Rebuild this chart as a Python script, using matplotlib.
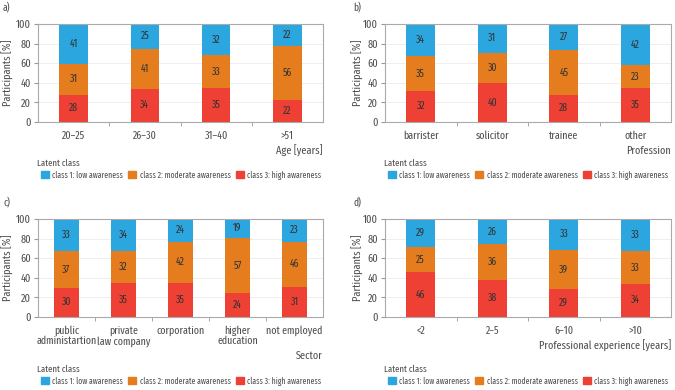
import matplotlib
matplotlib.use('Agg')
import matplotlib.pyplot as plt
from matplotlib.patches import Patch
import numpy as np

plt.rcParams['font.family'] = ['Fira Sans Extra Condensed', 'DejaVu Sans']
plt.rcParams['font.size'] = 7

BLUE = '#2ba6de'
ORANGE = '#e57d1f'
RED = '#ee4035'
GRAY = '#505050'
FS = 7.5

age_cats = ['20–25', '26–30', '31–40', '>51']
age_high = [28, 34, 35, 22]
age_mod = [31, 41, 33, 56]
age_low = [41, 25, 32, 22]

prof_cats = ['barrister', 'solicitor', 'trainee', 'other']
prof_high = [32, 40, 28, 35]
prof_mod = [35, 30, 45, 23]
prof_low = [34, 31, 27, 42]

sector_cats = ['public\nadministartion', 'private\nlaw company', 'corporation',
               'higher\neducation', 'not employed']
sector_high = [30, 35, 35, 24, 31]
sector_mod = [37, 32, 42, 57, 46]
sector_low = [33, 34, 24, 19, 23]

exp_cats = ['<2', '2–5', '6–10', '>10']
exp_high = [46, 38, 29, 34]
exp_mod = [25, 36, 39, 33]
exp_low = [29, 26, 33, 33]

legend_labels = ['class 1: low awareness', 'class 2: moderate awareness',
                 'class 3: high awareness']

W, H = 675, 390


def px_axes(fig, x0, y0, x1, y1):
    return fig.add_axes([x0 / W, 1 - y1 / H, (x1 - x0) / W, (y1 - y0) / H])


def panel(fig, box, cats, high, mod, low, xlabel, letter, letter_xy, leg_y):
    ax = px_axes(fig, *box)
    x = np.arange(len(cats))
    width = 0.4 if len(cats) == 4 else 0.43
    high = np.array(high)
    mod = np.array(mod)
    low = np.array(low)
    ax.bar(x, high, width, color=RED, zorder=2)
    ax.bar(x, mod, width, bottom=high, color=ORANGE, zorder=2)
    ax.bar(x, low, width, bottom=high + mod, color=BLUE, zorder=2)
    for i in range(len(cats)):
        ax.text(x[i], high[i] / 2, str(high[i]), ha='center', va='center', color='#333333', fontsize=FS)
        ax.text(x[i], high[i] + mod[i] / 2, str(mod[i]), ha='center', va='center', color='#333333', fontsize=FS)
        ax.text(x[i], high[i] + mod[i] + low[i] / 2, str(low[i]), ha='center', va='center', color='#333333', fontsize=FS)
    ax.set_xlim(-0.5, len(cats) - 0.5)
    ax.set_ylim(0, 100)
    ax.set_yticks([0, 20, 40, 60, 80, 100])
    ax.set_xticks(x)
    ax.set_xticklabels(cats, color=GRAY, fontsize=FS + 0.3, linespacing=1.0)
    ax.tick_params(axis='x', length=0, pad=6)
    ax.set_xticks(np.arange(len(cats) - 1) + 0.5, minor=True)
    ax.tick_params(axis='x', which='minor', length=3, color='#999999')
    ax.tick_params(axis='y', length=3, color='#999999', labelcolor=GRAY, labelsize=FS + 0.5, pad=2)
    for s in ax.spines.values():
        s.set_color('#aaaaaa')
        s.set_linewidth(0.8)
    ax.yaxis.grid(True, color='#ececec', linewidth=0.6, zorder=0)
    ax.set_axisbelow(True)
    ax.set_ylabel('Participants [%]', color=GRAY, fontsize=FS + 0.5)
    ax.yaxis.set_label_coords((letter_xy[0] + 11 - box[0]) / (box[2] - box[0]), 0.5)
    ax.set_xlabel(xlabel, loc='right', color=GRAY, fontsize=FS + 0.5, labelpad=3)
    fig.text(letter_xy[0] / W, 1 - letter_xy[1] / H, letter, color=GRAY, fontsize=FS, va='center')
    fig.text((box[0] - 1) / W, 1 - leg_y / H, 'Latent class', color=GRAY, fontsize=6.8, va='center')
    handles = [Patch(color=c) for c in (BLUE, ORANGE, RED)]
    ax.legend(handles, legend_labels, loc='center left',
              bbox_to_anchor=((box[0] - 5) / W, 1 - (leg_y + 12) / H),
              bbox_transform=fig.transFigure, ncol=3, frameon=False,
              handlelength=1.0, handleheight=1.0, handletextpad=0.4,
              columnspacing=0.6, labelcolor=GRAY, fontsize=6.0)
    return ax


fig = plt.figure(figsize=(6.75, 3.9), dpi=100)

panel(fig, (38, 24, 323, 122), age_cats, age_high, age_mod, age_low,
      'Age [years]', 'a)', (3, 8), 163)
panel(fig, (385, 24, 671, 122), prof_cats, prof_high, prof_mod, prof_low,
      'Profession', 'b)', (353, 8), 163)
panel(fig, (38, 219, 323, 317), sector_cats, sector_high, sector_mod, sector_low,
      'Sector', 'c)', (3, 203), 369)
panel(fig, (385, 219, 671, 317), exp_cats, exp_high, exp_mod, exp_low,
      'Professional experience [years]', 'd)', (353, 203), 369)

plt.savefig('out.png', dpi=100)
